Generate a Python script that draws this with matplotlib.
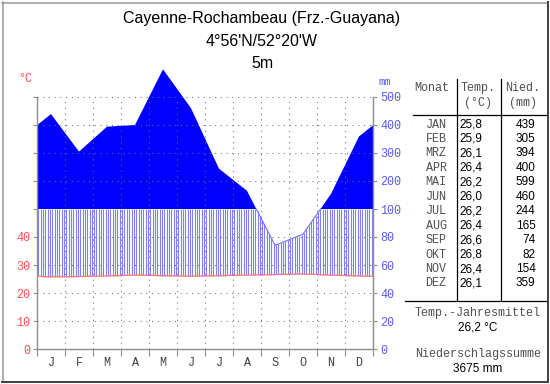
import numpy as np
import matplotlib
matplotlib.use("Agg")
import matplotlib.pyplot as plt
from matplotlib.lines import Line2D

# ---- data ----
title_lines = ["Cayenne-Rochambeau (Frz.-Guayana)", "4°56'N/52°20'W", "5m"]
month_letters = ["J", "F", "M", "A", "M", "J", "J", "A", "S", "O", "N", "D"]
month_names = ["JAN", "FEB", "MRZ", "APR", "MAI", "JUN", "JUL", "AUG", "SEP", "OKT", "NOV", "DEZ"]
temp = [25.8, 25.9, 26.1, 26.4, 26.2, 26.0, 26.2, 26.4, 26.6, 26.8, 26.4, 26.1]
precip = [439, 305, 394, 400, 599, 460, 244, 165, 74, 82, 154, 359]
temp_labels = ["25,8", "25,9", "26,1", "26,4", "26,2", "26,0", "26,2", "26,4", "26,6", "26,8", "26,4", "26,1"]
mean_temp_label = "26,2 °C"
total_precip_label = "3675 mm"
left_ticks = [0, 10, 20, 30, 40]
right_tick_labels = ["0", "20", "40", "60", "80", "100", "200", "300", "400", "500"]

W, H = 550, 384
fig = plt.figure(figsize=(W / 100, H / 100), dpi=100)
fig.patch.set_facecolor("white")

MONO = ["Liberation Mono", "DejaVu Sans Mono"]
SANS = ["Liberation Sans", "DejaVu Sans"]

def fx(px):
    return px / W

def fy(py):
    return 1 - py / H

# frame
fl = fig.add_artist
fl(Line2D([fx(2), fx(547)], [fy(2.5), fy(2.5)], color="#a0a0a0", lw=1.2))
fl(Line2D([fx(2.5), fx(2.5)], [fy(2), fy(381)], color="#a0a0a0", lw=1.2))
fl(Line2D([fx(2), fx(548)], [fy(381.5), fy(381.5)], color="#404040", lw=1.4))
fl(Line2D([fx(547.5), fx(547.5)], [fy(2), fy(382)], color="#404040", lw=1.4))

# titles
for t, yy in zip(title_lines, [18, 42, 64]):
    fig.text(fx(262), fy(yy), t, ha="center", va="center", fontsize=11.5, family=SANS, color="black")

# ---- main axes ----
x0, x1, ybot, ytop = 37, 373, 349, 97
ax = fig.add_axes([fx(x0), fy(ybot), (x1 - x0) / W, (ybot - ytop) / H])
ax.set_xlim(0, 12)
ax.set_ylim(0, 90)
ax.set_facecolor("none")

def scale_p(p):
    p = np.asarray(p, dtype=float)
    return np.where(p <= 100, p / 2.0, 50 + (p - 100) / 10.0)

t_arr = np.array(temp)
p_scaled = scale_p(precip)
xs = np.concatenate([[0], np.arange(12) + 0.5, [12]])
t_ext = np.concatenate([[(t_arr[0] + t_arr[-1]) / 2], t_arr, [(t_arr[0] + t_arr[-1]) / 2]])
p_ext = np.concatenate([[(p_scaled[0] + p_scaled[-1]) / 2], p_scaled, [(p_scaled[0] + p_scaled[-1]) / 2]])

xf = np.linspace(0, 12, 4001)
tf = np.interp(xf, xs, t_ext)
pf = np.interp(xf, xs, p_ext)

# solid fill above 100 mm
ax.fill_between(xf, 50, pf, where=pf >= 50, color="#0000ff", lw=0, zorder=2, clip_on=False)

# hatching between temp and precip (capped at 50)
hx = np.arange(0, 12, 1 / 12) + 1 / 24
ht = np.interp(hx, xs, t_ext)
hp = np.minimum(np.interp(hx, xs, p_ext), 50)
m = hp > ht
ax.vlines(hx[m], ht[m], hp[m], color="#8080ff", lw=0.8, zorder=1.5)

# precip line below 100
pl = np.where(pf <= 50, pf, np.nan)
ax.plot(xf, pl, color="#7070ff", lw=0.8, zorder=3)

# temperature line
ax.plot(xs, t_ext, color="#ff8080", lw=1.0, zorder=3)

# grid
for yv in range(10, 100, 10):
    if yv == 50:
        continue
    ax.plot([0, 12], [yv, yv], color="#707070", lw=0.75, dashes=(1, 4.5), zorder=4)
for xv in range(1, 12):
    ax.plot([xv, xv], [0, 90], color="#707070", lw=0.75, dashes=(1, 4.5), zorder=4)

# spines
ax.spines["top"].set_visible(False)
for s in ["left", "right", "bottom"]:
    ax.spines[s].set_color("#909090")
    ax.spines[s].set_linewidth(1.0)

ax.set_xticks(range(13))
ax.set_xticks(np.arange(12) + 0.5, minor=True)
ax.set_xticklabels([])
ax.set_xticklabels(month_letters, minor=True, family=MONO, fontsize=8.5, color="#404040")
ax.tick_params(axis="x", which="major", length=5, color="#909090", direction="out")
ax.tick_params(axis="x", which="minor", length=0, pad=6)

ax.set_yticks(range(0, 100, 10))
ax.set_yticklabels([str(v) if v in left_ticks else "" for v in range(0, 100, 10)],
                   family=MONO, fontsize=8.5, color="#ff5050")
ax.tick_params(axis="y", which="major", length=3, color="#909090", direction="out", pad=2)

ax2 = ax.twinx()
ax2.set_ylim(0, 90)
ax2.set_yticks(range(0, 100, 10))
ax2.set_yticklabels(right_tick_labels, family=MONO, fontsize=8.5, color="#5a5aff")
ax2.tick_params(axis="y", length=3, color="#909090", direction="out", pad=2)
for s in ["top", "left", "bottom"]:
    ax2.spines[s].set_visible(False)
ax2.spines["right"].set_color("#909090")

fig.text(fx(25), fy(79), "°C", ha="center", va="center", family=MONO, fontsize=8.5, color="#ff5050")
fig.text(fx(385), fy(82), "mm", ha="center", va="center", family=MONO, fontsize=7.5, color="#5a5aff")

# ---- table ----
tc = "#505050"
fl(Line2D([fx(413), fx(546)], [fy(114.5), fy(114.5)], color="black", lw=0.9))
fl(Line2D([fx(405), fx(546)], [fy(300.5), fy(300.5)], color="black", lw=0.9))
fl(Line2D([fx(456.5), fx(456.5)], [fy(79), fy(300)], color="black", lw=0.9))
fl(Line2D([fx(500.5), fx(500.5)], [fy(79), fy(300)], color="black", lw=0.9))

fig.text(fx(432), fy(88), "Monat", ha="center", va="center", family=MONO, fontsize=8.5, color=tc)
fig.text(fx(478), fy(88), "Temp.", ha="center", va="center", family=MONO, fontsize=8.5, color=tc)
fig.text(fx(478), fy(103), "(°C)", ha="center", va="center", family=MONO, fontsize=8.5, color=tc)
fig.text(fx(523), fy(88), "Nied.", ha="center", va="center", family=MONO, fontsize=8.5, color=tc)
fig.text(fx(523), fy(103), "(mm)", ha="center", va="center", family=MONO, fontsize=8.5, color=tc)

for i in range(12):
    yy = 124.5 + i * 14.45
    fig.text(fx(436), fy(yy), month_names[i], ha="center", va="center", family=MONO, fontsize=8.5, color=tc)
    fig.text(fx(482), fy(yy), temp_labels[i], ha="right", va="center", family=SANS, fontsize=8.5, color="black")
    fig.text(fx(535.5), fy(yy), str(precip[i]), ha="right", va="center", family=SANS, fontsize=8.5, color="black")

fig.text(fx(478), fy(313), "Temp.-Jahresmittel", ha="center", va="center", family=MONO, fontsize=8.5, color=tc)
fig.text(fx(478), fy(328), mean_temp_label, ha="center", va="center", family=SANS, fontsize=8.5, color="black")
fig.text(fx(478), fy(354), "Niederschlagssumme", ha="center", va="center", family=MONO, fontsize=8.5, color=tc)
fig.text(fx(478), fy(369), total_precip_label, ha="center", va="center", family=SANS, fontsize=8.5, color="black")

fig.savefig("out.png", dpi=100, facecolor="white")
